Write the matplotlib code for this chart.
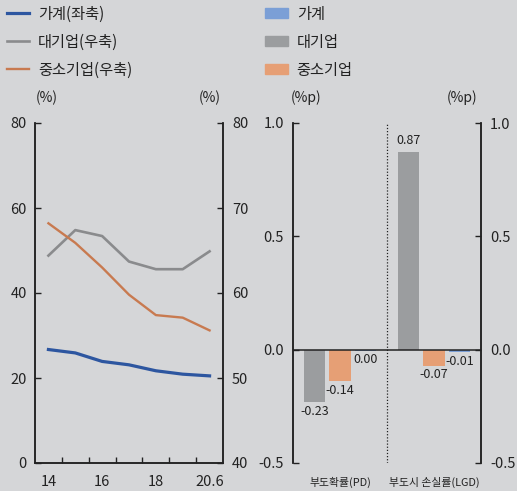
import matplotlib
matplotlib.use("Agg")
import matplotlib.pyplot as plt
from matplotlib.patches import Patch
from matplotlib.ticker import FixedLocator

plt.rcParams['font.family'] = ['Noto Sans CJK KR', 'DejaVu Sans']

# ---- data ----
years = ["14", "15", "16", "17", "18", "19", "20.6"]
year_labels = ["14", "", "16", "", "18", "", "20.6"]
household = [26.7, 25.9, 23.9, 23.1, 21.7, 20.9, 20.5]          # left axis
large_firm = [64.4, 67.4, 66.7, 63.7, 62.8, 62.8, 64.9]         # right axis
sme = [68.2, 65.9, 63.0, 59.8, 57.4, 57.1, 55.6]                # right axis

bar_groups = ["부도확률(PD)", "부도시 손실률(LGD)"]
bar_large = [-0.23, 0.87]
bar_sme = [-0.14, -0.07]
bar_household = [-0.004, -0.01]
lbl_large = ["-0.23", "0.87"]
lbl_sme = ["-0.14", "-0.07"]
lbl_household = ["0.00", "-0.01"]

BG = "#d5d6d8"
C_BLUE_L, C_GRAY_L, C_ORANGE_L = "#2d56a0", "#8a8b8d", "#c87a50"
C_BLUE_B, C_GRAY_B, C_ORANGE_B = "#7b9fd6", "#9b9d9f", "#e69f75"
AX = "#222222"

W, H = 517, 491
fig = plt.figure(figsize=(W / 100, H / 100), dpi=100, facecolor=BG)

def fr(x0, y0, x1, y1):
    return [x0 / W, 1 - y1 / H, (x1 - x0) / W, (y1 - y0) / H]

# ---------------- left chart ----------------
ax = fig.add_axes(fr(35, 123, 223, 463))
ax.set_facecolor(BG)
ax2 = ax.twinx()
x = list(range(len(years)))
h1, = ax.plot(x, household, color=C_BLUE_L, lw=2.3)
h2, = ax2.plot(x, large_firm, color=C_GRAY_L, lw=1.9)
h3, = ax2.plot(x, sme, color=C_ORANGE_L, lw=1.7)
ax.set_xlim(-0.5, len(years) - 0.5)
ax.set_ylim(0, 80)
ax2.set_ylim(40, 80)
ax.set_yticks([0, 20, 40, 60, 80])
ax2.set_yticks([40, 50, 60, 70, 80])
ax.set_xticks(x)
ax.set_xticklabels(year_labels)
ax.xaxis.set_minor_locator(FixedLocator([i + 0.5 for i in range(len(years) - 1)]))
ax.tick_params(axis='x', which='major', length=0, pad=9, labelsize=10.5, colors=AX)
ax.tick_params(axis='x', which='minor', direction='in', length=4.5, width=1, color=AX)
ax.tick_params(axis='y', direction='in', length=4, width=1, pad=6, labelsize=10.5, colors=AX)
ax2.tick_params(axis='y', direction='in', length=4, width=1, pad=6.5, labelsize=10.5, colors=AX)
for a in (ax, ax2):
    a.spines['top'].set_visible(False)
    for s in ('left', 'right', 'bottom'):
        a.spines[s].set_color(AX)
        a.spines[s].set_linewidth(1.1)
fig.text(47 / W, 1 - 98 / H, "(%)", ha='center', va='center', fontsize=10, color=AX)
fig.text(210 / W, 1 - 98 / H, "(%)", ha='center', va='center', fontsize=10, color=AX)

fig.legend([h1, h2, h3], ["가계(좌축)", "대기업(우축)", "중소기업(우축)"],
           loc='upper left', bbox_to_anchor=(2 / W, 1 - 1 / H), frameon=False,
           fontsize=11, handlelength=1.5, handletextpad=0.55, labelspacing=0.72,
           borderaxespad=0, borderpad=0.3, labelcolor=AX)

# ---------------- right chart ----------------
bx = fig.add_axes(fr(293, 123, 481, 463))
bx.set_facecolor(BG)
bx2 = bx.twinx()
bw = 0.225
off = 0.272
g = list(range(len(bar_groups)))
r1 = bx.bar([i - off for i in g], bar_large, width=bw, color=C_GRAY_B)
r2 = bx.bar(g, bar_sme, width=bw, color=C_ORANGE_B)
r3 = bx.bar([i + off for i in g], bar_household, width=bw, color=C_BLUE_B)
for rects, labels in ((r1, lbl_large), (r2, lbl_sme), (r3, lbl_household)):
    for rect, lab in zip(rects, labels):
        end = rect.get_y() + rect.get_height()
        cx = rect.get_x() + rect.get_width() / 2
        if end >= 0:
            bx.annotate(lab, (cx, end), xytext=(0, 4), textcoords='offset points',
                        ha='center', va='bottom', fontsize=9, color=AX)
        else:
            bx.annotate(lab, (cx, end), xytext=(0, -2), textcoords='offset points',
                        ha='center', va='top', fontsize=9, color=AX)
bx.axhline(0, color=AX, lw=1.1, zorder=3)
bx.axvline(0.5, color=AX, lw=0.9, ls=(0, (1, 1.5)))
bx.set_xlim(-0.5, len(bar_groups) - 0.5)
bx.set_ylim(-0.5, 1.0)
bx2.set_ylim(-0.5, 1.0)
ticks = [-0.5, 0.0, 0.5, 1.0]
bx.set_yticks(ticks)
bx2.set_yticks(ticks)
bx.set_yticklabels([f"{t:.1f}" for t in ticks])
bx2.set_yticklabels([f"{t:.1f}" for t in ticks])
bx.set_xticks(g)
bx.set_xticklabels(bar_groups)
bx.tick_params(axis='x', length=0, pad=10, labelsize=7.8, colors=AX)
bx.tick_params(axis='y', direction='in', length=4, width=1, pad=6.5, labelsize=10.5, colors=AX)
bx2.tick_params(axis='y', direction='in', length=4, width=1, pad=6.5, labelsize=10.5, colors=AX)
for a in (bx, bx2):
    a.spines['top'].set_visible(False)
    a.spines['bottom'].set_visible(False)
    for s in ('left', 'right'):
        a.spines[s].set_color(AX)
        a.spines[s].set_linewidth(1.1)
fig.text(306 / W, 1 - 98 / H, "(%p)", ha='center', va='center', fontsize=10, color=AX)
fig.text(462 / W, 1 - 98 / H, "(%p)", ha='center', va='center', fontsize=10, color=AX)

fig.legend([Patch(color=C_BLUE_B), Patch(color=C_GRAY_B), Patch(color=C_ORANGE_B)],
           ["가계", "대기업", "중소기업"],
           loc='upper left', bbox_to_anchor=(260 / W, 1 - 1 / H), frameon=False,
           fontsize=11, handlelength=1.5, handleheight=0.65, handletextpad=0.6,
           labelspacing=0.72, borderaxespad=0, borderpad=0.3, labelcolor=AX)

fig.savefig("out.png", dpi=100, facecolor=BG)
